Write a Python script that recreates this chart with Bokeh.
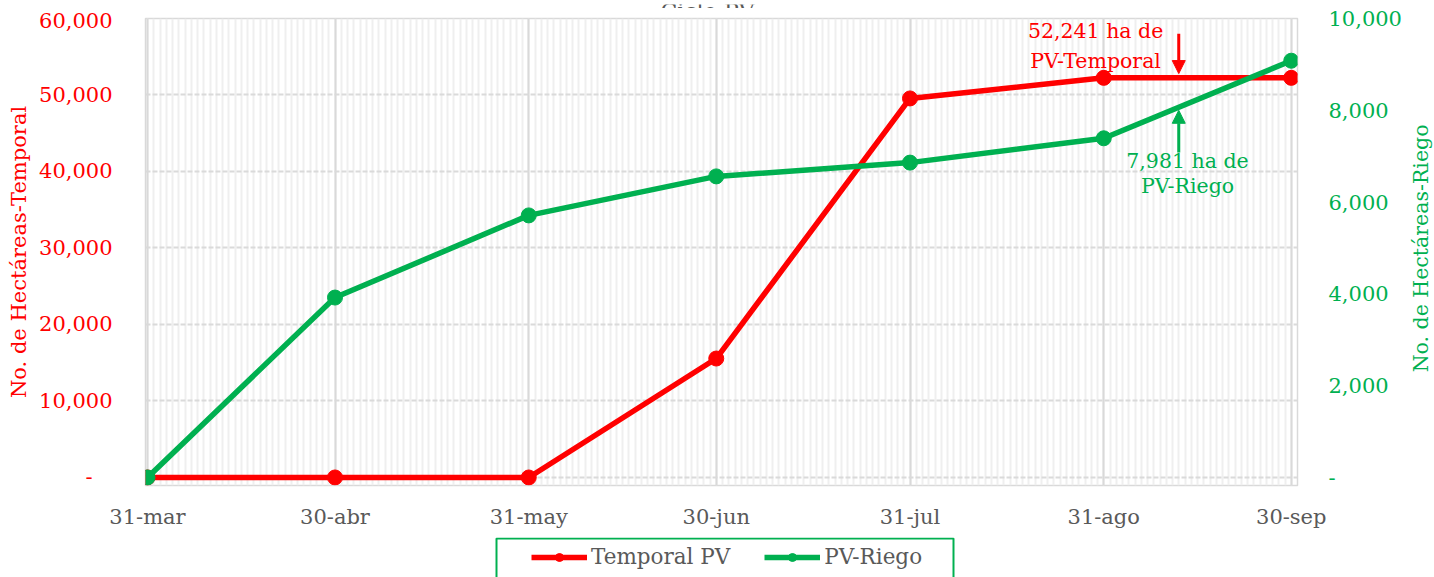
import math
from datetime import date
from bokeh.plotting import figure
from bokeh.layouts import column, row
from bokeh.core.properties import value
from bokeh.models import (Range1d, LinearAxis, FixedTicker, NumeralTickFormatter,
                          Legend, LegendItem, Arrow, NormalHead, Label)
from bokeh.embed import file_html
from bokeh.resources import INLINE

# ---------------- data ----------------
dates = ["2024-03-31", "2024-04-30", "2024-05-31", "2024-06-30",
         "2024-07-31", "2024-08-31", "2024-09-30"]
date_labels = ["31-mar", "30-abr", "31-may", "30-jun", "31-jul", "31-ago", "30-sep"]
temporal_pv = [0, 0, 0, 15550, 49550, 52241, 52241]
pv_riego = [0, 3920, 5710, 6560, 6860, 7390, 9080]
left_ticks = [0, 10000, 20000, 30000, 40000, 50000, 60000]
right_ticks = [0, 2000, 4000, 6000, 8000, 10000]
series_names = ["Temporal PV", "PV-Riego"]

title_text = "Ciclo PV"
left_title = "No. de Hectáreas-Temporal"
right_title = "No. de Hectáreas-Riego"
ann_temporal = ["52,241 ha de", "PV-Temporal"]
ann_riego = ["7,981 ha de", "PV-Riego"]
ann_date = "2024-09-12"

RED = "#FF0000"
GREEN = "#00B050"
GRAY = "#595959"
FONT = "DejaVu Serif"

start = date.fromisoformat(dates[0])
x = [(date.fromisoformat(d) - start).days for d in dates]
x_ann = (date.fromisoformat(ann_date) - start).days

# ---------------- top strip: title, cut off at the top like the reference ----------------
top = figure(width=1434, height=8, output_backend="svg", toolbar_location=None,
             x_range=Range1d(145, 1297), y_range=Range1d(0, 8),
             x_axis_location=None, y_axis_location=None,
             min_border_left=145, min_border_right=137, min_border_top=0,
             min_border_bottom=0)
top.outline_line_color = None
top.grid.visible = False
top.text(x=[707], y=[1.5], text=[title_text], text_align="center",
         text_baseline="alphabetic", text_font=value(FONT),
         text_font_size="22px", text_color=GRAY)

# ---------------- main chart ----------------
p = figure(width=1404, height=529, output_backend="svg", toolbar_location=None,
           x_range=Range1d(-0.32, 184.0), y_range=Range1d(-1050, 60000),
           min_border_left=145, min_border_right=107, min_border_top=10,
           min_border_bottom=52)
p.extra_y_ranges = {"right": Range1d(-175, 10000)}
p.outline_line_color = "#D9D9D9"
p.outline_line_width = 1.5
p.background_fill_color = "white"
p.border_fill_color = "white"

# x axis
xt = FixedTicker(ticks=x, minor_ticks=list(range(0, 184)))
p.xaxis.ticker = xt
p.xaxis.major_label_overrides = {v: l for v, l in zip(x, date_labels)}
p.xaxis.axis_line_color = None
p.xaxis.major_tick_out = 0
p.xaxis.major_tick_in = 0
p.xaxis.minor_tick_line_color = None
p.xaxis.major_label_standoff = 15
p.xaxis.major_label_text_font = FONT
p.xaxis.major_label_text_font_size = "21px"
p.xaxis.major_label_text_color = GRAY
p.xgrid.ticker = xt
p.xgrid.grid_line_color = "#D9D9D9"
p.xgrid.grid_line_width = 2
p.xgrid.minor_grid_line_color = "#EFEFEF"
p.xgrid.minor_grid_line_width = 2

# left axis
lt = FixedTicker(ticks=left_ticks)
p.yaxis.ticker = lt
p.yaxis.formatter = NumeralTickFormatter(format="0,0")
p.yaxis.major_label_overrides = {0: "-\u00a0\u00a0\u00a0"}
p.yaxis.axis_line_color = None
p.yaxis.major_tick_out = 0
p.yaxis.major_tick_in = 0
p.yaxis.minor_tick_line_color = None
p.yaxis.major_label_standoff = 33
p.yaxis.major_label_text_font = FONT
p.yaxis.major_label_text_font_size = "21px"
p.yaxis.major_label_text_color = RED
p.yaxis.axis_label = left_title
p.yaxis.axis_label_text_font = FONT
p.yaxis.axis_label_text_font_size = "21px"
p.yaxis.axis_label_text_font_style = "normal"
p.yaxis.axis_label_text_color = RED
p.yaxis.axis_label_standoff = 5
p.ygrid.ticker = lt
p.ygrid.grid_line_color = "#DADADA"
p.ygrid.grid_line_width = 2
p.ygrid.grid_line_dash = "5 2"

# right axis: tick labels only
ra = LinearAxis(y_range_name="right", ticker=FixedTicker(ticks=right_ticks),
                formatter=NumeralTickFormatter(format="0,0"))
ra.major_label_overrides = {0: "-"}
ra.axis_line_color = None
ra.major_tick_out = 0
ra.major_tick_in = 0
ra.minor_tick_line_color = None
ra.major_label_standoff = 31
ra.major_label_text_font = FONT
ra.major_label_text_font_size = "21px"
ra.major_label_text_color = GREEN
p.add_layout(ra, "right")

# series
l1 = p.line(x, temporal_pv, line_color=RED, line_width=5.5)
c1 = p.scatter(x, temporal_pv, size=15, fill_color=RED, line_color=RED)
l2 = p.line(x, pv_riego, line_color=GREEN, line_width=5.5, y_range_name="right")
c2 = p.scatter(x, pv_riego, size=15, fill_color=GREEN, line_color=GREEN,
               y_range_name="right")

# annotations
p.add_layout(Arrow(x_start=x_ann, y_start=58000, x_end=x_ann, y_end=52800,
                   line_color=RED, line_width=3,
                   end=NormalHead(size=13, fill_color=RED, line_color=RED)))
p.add_layout(Arrow(x_start=x_ann, y_start=7080, x_end=x_ann, y_end=8000,
                   y_range_name="right", line_color=GREEN, line_width=3,
                   end=NormalHead(size=13, fill_color=GREEN, line_color=GREEN)))
for txt, yy in zip(ann_temporal, [58400, 54500]):
    p.add_layout(Label(x=151.7, y=yy, text=txt, text_align="center",
                       text_baseline="middle", text_font=FONT,
                       text_font_size="20.5px", text_color=RED))
for txt, yy in zip(ann_riego, [6906, 6340]):
    p.add_layout(Label(x=166.4, y=yy, y_range_name="right", text=txt,
                       text_align="center", text_baseline="middle",
                       text_font=FONT, text_font_size="20.5px", text_color=GREEN))

# ---------------- right strip: right axis title, reading bottom-to-top ----------------
side = figure(width=30, height=529, output_backend="svg", toolbar_location=None,
              x_range=Range1d(0, 30), y_range=Range1d(-175, 10000),
              x_axis_location=None, y_axis_location=None,
              min_border_left=0, min_border_right=0, min_border_top=10,
              min_border_bottom=52)
side.outline_line_color = None
side.grid.visible = False
side.text(x=[16], y=[4990], text=[right_title], angle=math.pi / 2,
          text_align="center", text_baseline="middle", text_font=value(FONT),
          text_font_size="20.5px", text_color=GREEN)

# ---------------- legend strip ----------------
lg = figure(width=1434, height=40, output_backend="svg", toolbar_location=None,
            x_range=Range1d(145, 1297), y_range=Range1d(0, 40),
            x_axis_location=None, y_axis_location=None,
            min_border_left=145, min_border_right=137, min_border_top=0,
            min_border_bottom=0)
lg.outline_line_color = None
lg.grid.visible = False
lg.quad(left=[496], right=[953], top=[39], bottom=[-5], fill_color=None,
        line_color=GREEN, line_width=2)
# legend glyph sources: first data point, which lies outside this strip's frame
d1 = lg.line(x[:1], temporal_pv[:1], line_color=RED, line_width=5.5)
e1 = lg.scatter(x[:1], temporal_pv[:1], size=13, fill_color=RED, line_color=RED)
d2 = lg.line(x[:1], pv_riego[:1], line_color=GREEN, line_width=5.5)
e2 = lg.scatter(x[:1], pv_riego[:1], size=13, fill_color=GREEN, line_color=GREEN)
legend = Legend(items=[LegendItem(label=series_names[0], renderers=[d1, e1]),
                       LegendItem(label=series_names[1], renderers=[d2, e2])],
                orientation="horizontal", location=(386, 8),
                border_line_color=None, background_fill_alpha=0,
                label_text_font=FONT, label_text_font_size="21.5px",
                label_text_color=GRAY, glyph_width=56, glyph_height=20,
                label_standoff=4, spacing=34, padding=8, margin=0)
lg.add_layout(legend)

layout = column(top, row(p, side, spacing=0), lg, spacing=0)
open("out.html", "w").write(file_html(layout, INLINE))
